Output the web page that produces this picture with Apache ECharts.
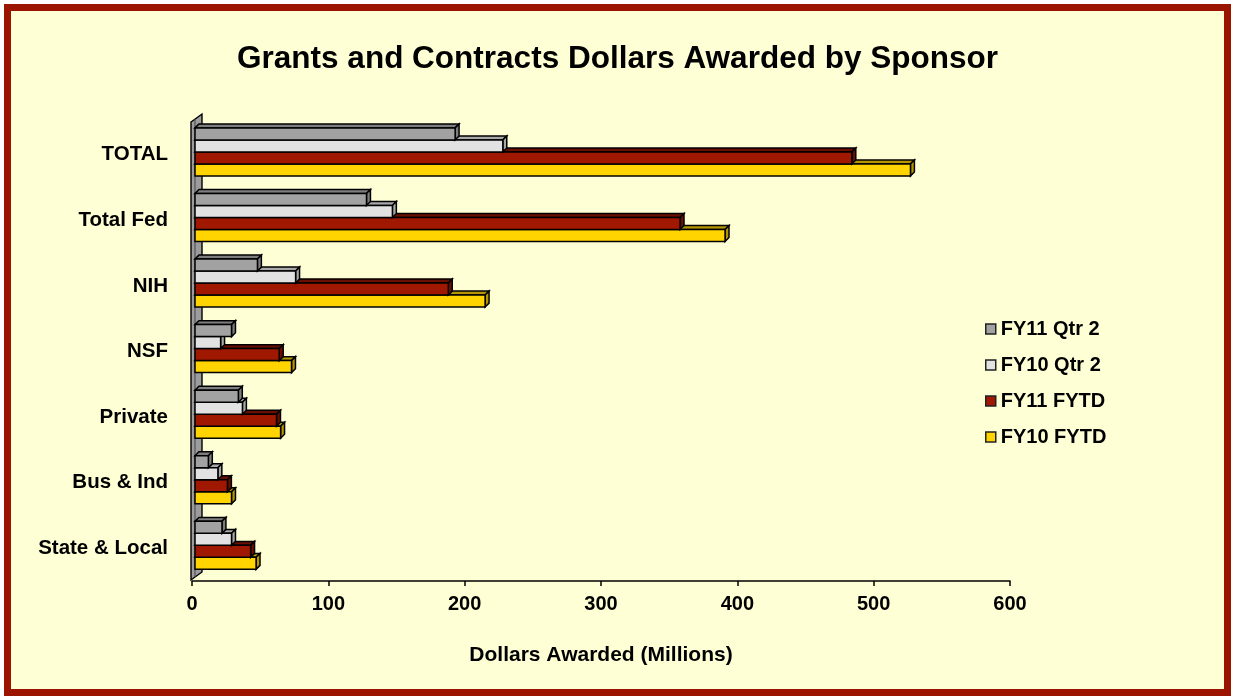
<!DOCTYPE html>
<html>
<head>
<meta charset="utf-8">
<script src="https://cdn.jsdelivr.net/npm/echarts@6/dist/echarts.min.js"></script>
<style>
  html, body { margin: 0; padding: 0; background: #ffffff; }
  #frame { position: absolute; left: 4px; top: 4px; width: 1227px; height: 692px; box-sizing: border-box;
           border: 7px solid #9a1400; background: #ffffd6; }
  #chart { position: absolute; left: 0; top: 0; width: 1235px; height: 700px; }
</style>
</head>
<body>
<div id="frame"></div>
<div id="chart"></div>
<script>
// ---- data ----
const categories = ['TOTAL', 'Total Fed', 'NIH', 'NSF', 'Private', 'Bus & Ind', 'State & Local'];
const seriesNames = ['FY11 Qtr 2', 'FY10 Qtr 2', 'FY11 FYTD', 'FY10 FYTD'];
const fy11Qtr2 = [193, 128, 48, 29, 34, 12, 22];
const fy10Qtr2 = [228, 147, 76, 21, 37, 19, 29];
const fy11FYTD = [484, 358, 188, 64, 62, 26, 43];
const fy10FYTD = [527, 391, 215, 73, 65, 29, 47];
const xTicks = [0, 100, 200, 300, 400, 500, 600];

// ---- styling ----
const FONT = "'Liberation Sans', Arial, Helvetica, sans-serif";
const palette = [
  { front: '#a2a2a2', side: '#7e7e7e' },
  { front: '#e2e2e2', side: '#a8a8a8' },
  { front: '#a11800', side: '#6a0f00' },
  { front: '#ffd400', side: '#b59600' }
];
const GL = 192, GT = 122, GW = 818, GH = 459;
const GB = GT + GH;

function makeRender(idx) {
  return function (params, api) {
    const v = api.value(0);
    const c = api.value(1);
    const p0 = api.coord([0, c]);
    const p1 = api.coord([v, c]);
    const band = api.size([0, 1])[1];
    const h = band * 0.183;
    const d = band * 0.06;
    const x0 = p0[0] + 3, x1 = p1[0];
    const top = p0[1] - band * 0.41 + idx * h;
    const col = palette[idx];
    const stroke = { stroke: '#000', lineWidth: 1.5 };
    return {
      type: 'group',
      children: [
        { type: 'polygon', shape: { points: [[x0, top], [x0 + d, top - d], [x1 + d, top - d], [x1, top]] },
          style: Object.assign({ fill: col.side }, stroke) },
        { type: 'polygon', shape: { points: [[x1, top], [x1 + d, top - d], [x1 + d, top + h - d], [x1, top + h]] },
          style: Object.assign({ fill: col.side }, stroke) },
        { type: 'rect', shape: { x: x0, y: top, width: x1 - x0, height: h },
          style: Object.assign({ fill: col.front }, stroke) }
      ]
    };
  };
}

const allValues = [fy11Qtr2, fy10Qtr2, fy11FYTD, fy10FYTD];
const series = allValues.map((arr, i) => ({
  name: seriesNames[i],
  type: 'custom',
  z: 10 - i,
  renderItem: makeRender(i),
  itemStyle: { color: palette[i].front, borderColor: '#000', borderWidth: 1.5 },
  encode: { x: 0, y: 1 },
  data: arr.map((v, j) => [v, j])
}));

const chart = echarts.init(document.getElementById('chart'), null, { renderer: 'canvas' });
chart.setOption({
  backgroundColor: 'transparent',
  animation: false,
  title: {
    text: 'Grants and Contracts Dollars Awarded by Sponsor',
    left: 'center',
    top: 38,
    textStyle: { fontFamily: FONT, fontWeight: 'bold', fontSize: 31.5, color: '#000' }
  },
  legend: {
    orient: 'vertical',
    left: 980,
    top: 314,
    itemWidth: 10,
    itemHeight: 10,
    itemGap: 16,
    icon: 'rect',
    itemStyle: { borderColor: '#222', borderWidth: 1.5 },
    textStyle: { fontFamily: FONT, fontWeight: 'bold', fontSize: 20, color: '#000' },
    data: seriesNames
  },
  grid: { left: GL, top: GT, width: GW, height: GH, containLabel: false },
  xAxis: {
    type: 'value',
    min: 0, max: 600, interval: 100,
    name: 'Dollars Awarded (Millions)',
    nameLocation: 'middle',
    nameGap: 64,
    nameTextStyle: { fontFamily: FONT, fontWeight: 'bold', fontSize: 21, color: '#000' },
    axisLine: { show: true, lineStyle: { color: '#000', width: 1.5 } },
    axisTick: { show: true, length: 5, lineStyle: { color: '#000', width: 1.5 } },
    splitLine: { show: false },
    axisLabel: {
      fontFamily: FONT, fontWeight: 'bold', fontSize: 20, color: '#000', margin: 13,
      formatter: v => xTicks.indexOf(v) >= 0 ? String(v) : ''
    }
  },
  yAxis: {
    type: 'category',
    data: categories,
    inverse: true,
    axisLine: { show: false },
    axisTick: { show: false },
    splitLine: { show: false },
    axisLabel: { fontFamily: FONT, fontWeight: 'bold', fontSize: 20.5, color: '#000', margin: 24 }
  },
  graphic: [
    {
      type: 'polygon', z: 1,
      shape: { points: [[GL - 1, GT], [GL + 10, GT - 8], [GL + 10, GB - 9], [GL - 1, GB - 1]] },
      style: { fill: '#9c9c9c', stroke: '#000', lineWidth: 1.4 }
    },
    {
      type: 'line', z: 1,
      shape: { x1: GL + 3, y1: GT - 3, x2: GL + 3, y2: GB - 4 },
      style: { stroke: '#444', lineWidth: 1 }
    }
  ],
  series: series
});
</script>
</body>
</html>
